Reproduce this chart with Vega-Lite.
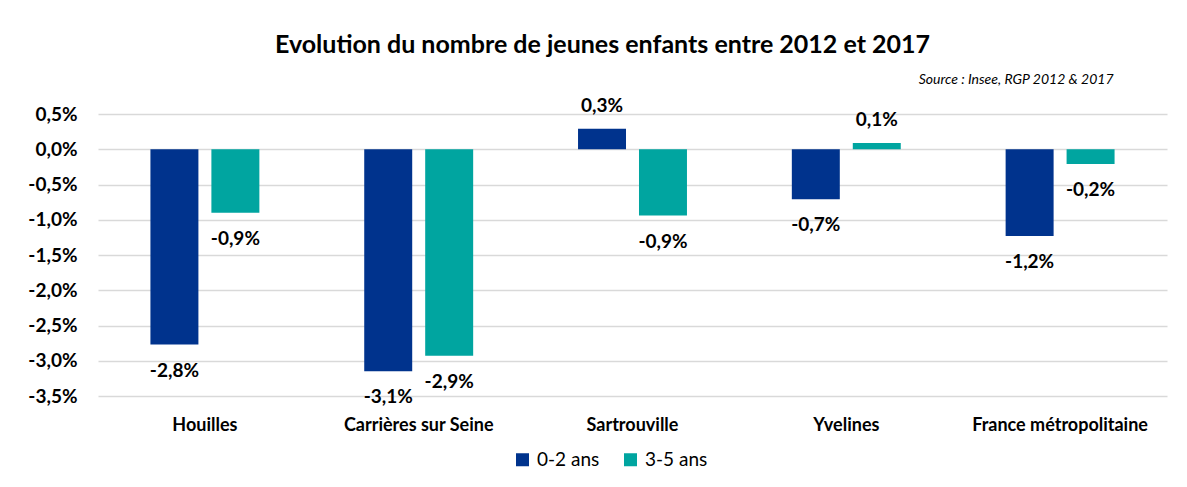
{
  "$schema": "https://vega.github.io/schema/vega-lite/v6.json",
  "width": 1069,
  "height": 282,
  "autosize": {"type": "none"},
  "padding": {"left": 98, "top": 114, "right": 20, "bottom": 91},
  "background": "white",
  "config": {
    "locale": {"number": {"decimal": ",", "thousands": " ", "grouping": [3], "currency": ["", " €"], "minus": "-", "percent": "%"}},
    "font": "Lato",
    "view": {"stroke": null}
  },
  "title": {
    "text": "Evolution du nombre de jeunes enfants entre 2012 et 2017",
    "font": "Lato",
    "fontSize": 25,
    "fontWeight": "bold",
    "color": "#000000",
    "anchor": "middle",
    "frame": "group",
    "dx": -30,
    "baseline": "alphabetic",
    "offset": -6
  },
  "data": {
    "values": [
      {"lieu": "Houilles", "age": "0-2 ans", "valeur": -0.0277},
      {"lieu": "Houilles", "age": "3-5 ans", "valeur": -0.009},
      {"lieu": "Carrières sur Seine", "age": "0-2 ans", "valeur": -0.0315},
      {"lieu": "Carrières sur Seine", "age": "3-5 ans", "valeur": -0.0293},
      {"lieu": "Sartrouville", "age": "0-2 ans", "valeur": 0.0029},
      {"lieu": "Sartrouville", "age": "3-5 ans", "valeur": -0.0094},
      {"lieu": "Yvelines", "age": "0-2 ans", "valeur": -0.0071},
      {"lieu": "Yvelines", "age": "3-5 ans", "valeur": 0.0009},
      {"lieu": "France métropolitaine", "age": "0-2 ans", "valeur": -0.0123},
      {"lieu": "France métropolitaine", "age": "3-5 ans", "valeur": -0.0021}
    ]
  },
  "encoding": {
    "xOffset": {"field": "age", "type": "nominal", "sort": ["0-2 ans", "3-5 ans"], "scale": {"paddingInner": 0.213, "paddingOuter": 0.86}},
    "y": {
      "field": "valeur",
      "type": "quantitative",
      "scale": {"domain": [-0.035, 0.005], "nice": false, "zero": false},
      "axis": {
        "values": [-0.035, -0.03, -0.025, -0.02, -0.015, -0.01, -0.005, 0, 0.005],
        "format": ".1%",
        "labelFont": "Lato",
        "labelFontSize": 19,
        "labelFontWeight": "bold",
        "labelColor": "#000000",
        "labelPadding": 21,
        "domain": false,
        "ticks": false,
        "gridColor": "#D9D9D9",
        "gridWidth": 1.5,
        "title": null
      }
    }
  },
  "resolve": {"axis": {"x": "independent"}},
  "layer": [
    {
      "mark": {"type": "bar"},
      "encoding": {
        "x": {
          "field": "lieu",
          "type": "nominal",
          "sort": ["Houilles", "Carrières sur Seine", "Sartrouville", "Yvelines", "France métropolitaine"],
          "scale": {"paddingInner": 0, "paddingOuter": 0},
          "axis": {
            "orient": "bottom",
            "labelFont": "Lato",
            "labelFontSize": 18,
            "labelFontWeight": "bold",
            "labelColor": "#000000",
            "labelPadding": 20,
            "labelAngle": 0,
            "domain": false,
            "ticks": false,
            "grid": false,
            "title": null
          }
        },
        "color": {
          "field": "age",
          "type": "nominal",
          "scale": {"domain": ["0-2 ans", "3-5 ans"], "range": ["#00338D", "#00A5A0"]},
          "legend": {
            "orient": "none",
            "direction": "horizontal",
            "legendX": 415,
            "legendY": 336,
            "title": null,
            "padding": 0,
            "symbolType": "square",
            "symbolSize": 169,
            "symbolStrokeWidth": 0,
            "symbolOpacity": 1,
            "labelFont": "Lato",
            "labelFontSize": 19,
            "labelColor": "#000000",
            "labelOffset": 5,
            "columnPadding": 21
          }
        }
      }
    },
    {
      "transform": [{"filter": "datum.valeur >= 0"}],
      "mark": {"type": "text", "baseline": "alphabetic", "dy": -17, "fontSize": 19, "fontWeight": "bold", "font": "Lato", "color": "#000000"},
      "encoding": {
        "x": {
          "field": "lieu",
          "type": "nominal",
          "sort": ["Houilles", "Carrières sur Seine", "Sartrouville", "Yvelines", "France métropolitaine"],
          "axis": {
            "orient": "top",
            "labels": false,
            "ticks": false,
            "domain": false,
            "grid": false,
            "title": "Source : Insee, RGP 2012 & 2017",
            "titleFont": "Lato",
            "titleFontSize": 14,
            "titleFontStyle": "italic",
            "titleFontWeight": "normal",
            "titleColor": "#000000",
            "titleAlign": "right",
            "titleAnchor": "end",
            "titleX": 1015,
            "titleY": -31,
            "titleBaseline": "alphabetic"
          }
        },
        "text": {"field": "valeur", "type": "quantitative", "format": ".1%"}
      }
    },
    {
      "transform": [{"filter": "datum.valeur < 0"}],
      "mark": {"type": "text", "baseline": "alphabetic", "dy": 32, "fontSize": 19, "fontWeight": "bold", "font": "Lato", "color": "#000000"},
      "encoding": {
        "x": {
          "field": "lieu",
          "type": "nominal",
          "sort": ["Houilles", "Carrières sur Seine", "Sartrouville", "Yvelines", "France métropolitaine"],
          "axis": null
        },
        "text": {"field": "valeur", "type": "quantitative", "format": ".1%"}
      }
    }
  ]
}
